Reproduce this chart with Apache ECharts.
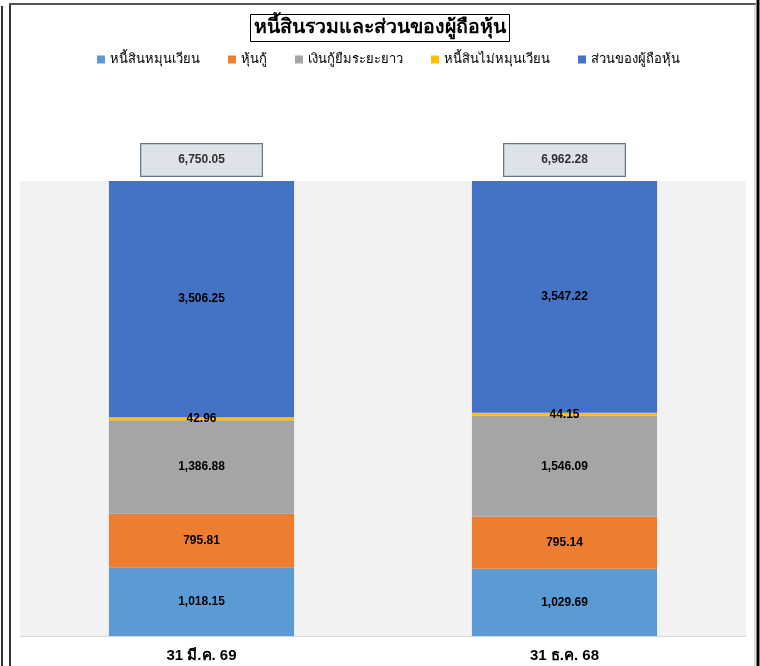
<!DOCTYPE html>
<html>
<head>
<meta charset="utf-8">
<script src="https://cdn.jsdelivr.net/npm/echarts@6/dist/echarts.min.js"></script>
<style>
html,body{margin:0;padding:0;background:#fff;}
#chart{width:760px;height:666px;}
</style>
</head>
<body>
<div id="chart"></div>
<script>
const categories = ['31 มี.ค. 69', '31 ธ.ค. 68'];
const seriesNames = ['หนี้สินหมุนเวียน', 'หุ้นกู้', 'เงินกู้ยืมระยะยาว', 'หนี้สินไม่หมุนเวียน', 'ส่วนของผู้ถือหุ้น'];
const currentLiabilities = [1018.15, 1029.69];
const debentures = [795.81, 795.14];
const longTermLoans = [1386.88, 1546.09];
const nonCurrentLiabilities = [42.96, 44.15];
const equity = [3506.25, 3547.22];
const totals = [6750.05, 6962.28];
const colors = ['#5B9BD5', '#ED7D31', '#A5A5A5', '#FFC000', '#4472C4'];

const FONT = "'Liberation Sans Narrow', 'Liberation Sans', sans-serif";
const fmt = v => v.toLocaleString('en-US', {minimumFractionDigits: 2, maximumFractionDigits: 2});

const seriesValues = [currentLiabilities, debentures, longTermLoans, nonCurrentLiabilities, equity];

const barSeries = seriesValues.map((arr, i) => ({
  name: seriesNames[i],
  type: 'bar',
  stack: 'total',
  barWidth: '51%',
  itemStyle: {color: colors[i]},
  label: {
    show: true,
    position: 'inside',
    color: '#000',
    fontWeight: 'bold',
    fontSize: 12,
    fontFamily: FONT,
    formatter: p => fmt(p.data.raw)
  },
  data: arr.map((v, j) => ({value: v / totals[j] * 100, raw: v}))
}));

const totalSeries = {
  name: 'total',
  type: 'scatter',
  symbolSize: 0,
  clip: false,
  z: 10,
  data: totals.map(t => ({value: 100, raw: t})),
  label: {
    show: true,
    position: 'top',
    distance: 4,
    offset: [0, -17],
    formatter: p => fmt(p.data.raw),
    backgroundColor: '#D6DCE5',
    borderColor: '#44546A',
    borderWidth: 1,
    width: 121,
    height: 32,
    lineHeight: 32,
    padding: 0,
    align: 'center',
    verticalAlign: 'middle',
    color: '#000',
    fontWeight: 'bold',
    fontSize: 12,
    fontFamily: FONT
  }
};

const chart = echarts.init(document.getElementById('chart'));
chart.setOption({
  animation: false,
  title: {
    text: 'หนี้สินรวมและส่วนของผู้ถือหุ้น',
    left: 'center',
    top: 14,
    padding: [4, 4, 4, 4],
    borderColor: '#000',
    borderWidth: 1,
    textStyle: {fontSize: 19.5, fontWeight: 'bold', color: '#000', fontFamily: FONT}
  },
  legend: {
    data: seriesNames,
    top: 48,
    left: 92,
    icon: 'rect',
    itemWidth: 8,
    itemHeight: 8,
    itemGap: 28,
    textStyle: {fontSize: 13, color: '#000', fontFamily: FONT}
  },
  grid: {
    left: 20, right: 14, top: 181, bottom: 30,
    show: true, backgroundColor: '#F2F2F2', borderWidth: 0
  },
  xAxis: {
    type: 'category',
    data: categories,
    axisTick: {show: false},
    axisLine: {lineStyle: {color: '#D9D9D9', width: 1}},
    axisLabel: {fontSize: 15, fontWeight: 'bold', color: '#000', margin: 12, fontFamily: FONT}
  },
  yAxis: {
    type: 'value', min: 0, max: 100, show: false
  },
  graphic: [
    {type: 'line', shape: {x1: 2, y1: 6, x2: 2, y2: 666}, style: {stroke: '#333', lineWidth: 2}},
    {type: 'line', shape: {x1: 10, y1: 4, x2: 10, y2: 666}, style: {stroke: '#333', lineWidth: 2}},
    {type: 'line', shape: {x1: 9, y1: 4, x2: 756, y2: 4}, style: {stroke: '#555', lineWidth: 2}},
    {type: 'line', shape: {x1: 755, y1: 4, x2: 755, y2: 666}, style: {stroke: '#BBB', lineWidth: 1}},
    {type: 'line', shape: {x1: 758, y1: 0, x2: 758, y2: 666}, style: {stroke: '#000', lineWidth: 3}}
  ],
  series: [...barSeries, totalSeries]
});
</script>
</body>
</html>
